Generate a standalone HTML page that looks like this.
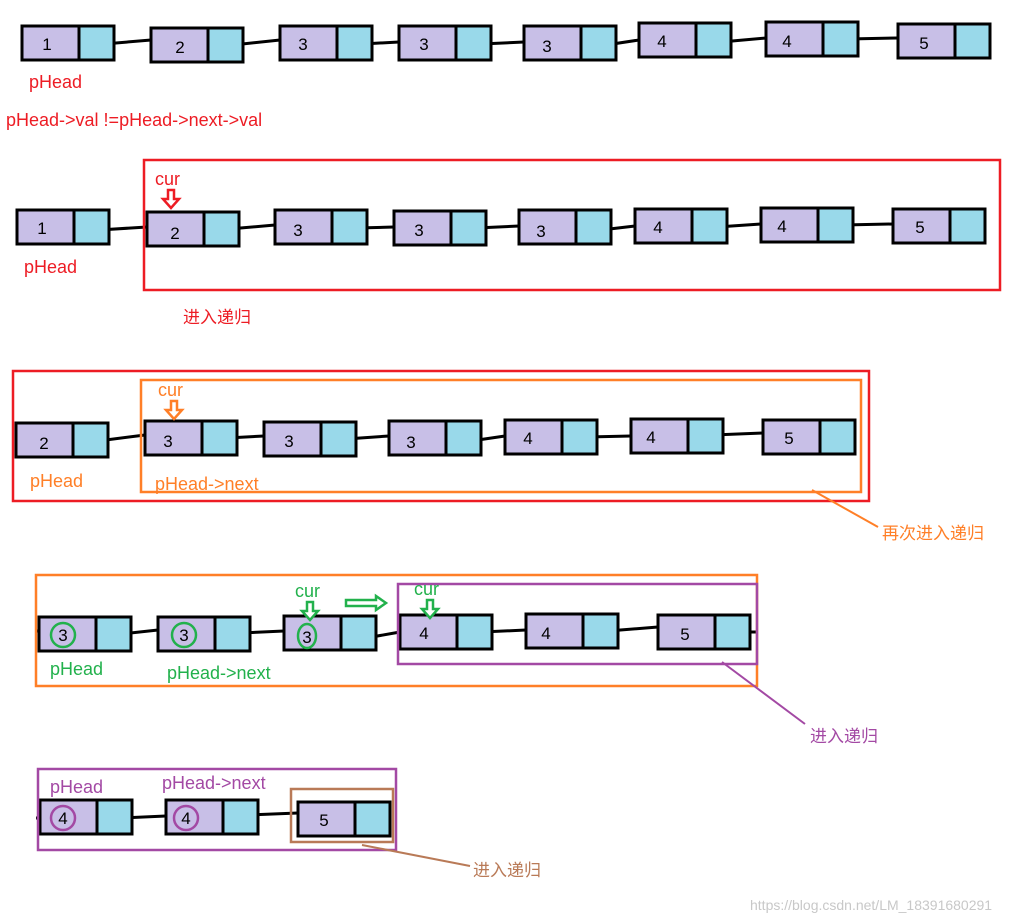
<!DOCTYPE html>
<html><head><meta charset="utf-8"><style>
html,body{margin:0;padding:0;background:#fff;}
svg{display:block;font-family:"Liberation Sans","Noto Sans CJK SC",sans-serif;}
</style></head><body>
<svg width="1033" height="923" viewBox="0 0 1033 923" xmlns="http://www.w3.org/2000/svg">
<defs>
<g id="n">
<rect x="0" y="0" width="57" height="34" fill="#c8bfe7"/>
<rect x="57" y="0" width="35" height="34" fill="#99d9ea"/>
<rect x="0" y="0" width="92" height="34" fill="none" stroke="#000" stroke-width="3"/>
<line x1="57" y1="0" x2="57" y2="34" stroke="#000" stroke-width="3"/>
</g>
<path id="ar" d="M-3,0 h6 v9 h5 l-8,9 l-8,-9 h5 z" stroke-width="2.5" fill="#fff"/>
</defs>
<g stroke="#000" stroke-width="3" fill="none">
<!-- row1 links -->
<path d="M104,44 L151,40 M233,45 L280,40 M362,44 L399,42 M481,44 L524,42 M606,45 L639,40 M721,42 L766,38 M848,39 L898,38"/>
<!-- row2 -->
<path d="M99,230 L147,227 M229,229 L275,225 M357,228 L394,227 M476,228 L519,226 M601,230 L635,226 M717,227 L761,224 M843,225 L893,224"/>
<!-- row3 -->
<path d="M40,423 L16,423 M98,441 L145,435 M227,438 L264,436 M346,439 L389,436 M471,441 L505,436 M587,437 L631,436 M713,435 L763,433"/>
<!-- row4 -->
<path d="M36,631 L39,631 M121,634 L158,630 M240,633 L284,631 M366,638 L400,632 M482,632 L526,630 M608,631 L658,627 M740,632 L757,632"/>
<!-- row5 -->
<path d="M36,818 L40,818 M122,818 L166,816 M248,815 L298,813"/>
</g>
<!-- row1 nodes -->
<use href="#n" x="22" y="26"/><use href="#n" x="151" y="28"/><use href="#n" x="280" y="26"/><use href="#n" x="399" y="26"/><use href="#n" x="524" y="26"/><use href="#n" x="639" y="23"/><use href="#n" x="766" y="22"/><use href="#n" x="898" y="24"/>
<!-- row2 -->
<use href="#n" x="17" y="210"/><use href="#n" x="147" y="212"/><use href="#n" x="275" y="210"/><use href="#n" x="394" y="211"/><use href="#n" x="519" y="210"/><use href="#n" x="635" y="209"/><use href="#n" x="761" y="208"/><use href="#n" x="893" y="209"/>
<!-- row3 -->
<use href="#n" x="16" y="423"/><use href="#n" x="145" y="421"/><use href="#n" x="264" y="422"/><use href="#n" x="389" y="421"/><use href="#n" x="505" y="420"/><use href="#n" x="631" y="419"/><use href="#n" x="763" y="420"/>
<!-- row4 -->
<use href="#n" x="39" y="617"/><use href="#n" x="158" y="617"/><use href="#n" x="284" y="616"/><use href="#n" x="400" y="615"/><use href="#n" x="526" y="614"/><use href="#n" x="658" y="615"/>
<!-- row5 -->
<use href="#n" x="40" y="800"/><use href="#n" x="166" y="800"/><use href="#n" x="298" y="802"/>

<g font-size="17" fill="#000" text-anchor="middle">
<text x="47" y="50">1</text><text x="180" y="53">2</text><text x="303" y="50">3</text><text x="424" y="50">3</text><text x="547" y="52">3</text><text x="662" y="47">4</text><text x="787" y="47">4</text><text x="924" y="49">5</text>
<text x="42" y="234">1</text><text x="175" y="239">2</text><text x="298" y="236">3</text><text x="419" y="236">3</text><text x="541" y="237">3</text><text x="658" y="233">4</text><text x="782" y="232">4</text><text x="920" y="233">5</text>
<text x="44" y="449">2</text><text x="168" y="447">3</text><text x="289" y="447">3</text><text x="411" y="448">3</text><text x="528" y="444">4</text><text x="651" y="443">4</text><text x="789" y="444">5</text>
<text x="63" y="641">3</text><text x="184" y="641">3</text><text x="307" y="643">3</text><text x="424" y="639">4</text><text x="546" y="639">4</text><text x="685" y="640">5</text>
<text x="63" y="824">4</text><text x="186" y="824">4</text><text x="324" y="826">5</text>
</g>
<!-- green circles -->
<g fill="none" stroke="#22b14c" stroke-width="2.5">
<circle cx="63" cy="635" r="12"/><circle cx="184" cy="635" r="12"/><ellipse cx="307" cy="636" rx="9" ry="12"/>
</g>
<g fill="none" stroke="#a349a4" stroke-width="2.5">
<circle cx="63" cy="818" r="12"/><circle cx="186" cy="818" r="12"/>
</g>
<!-- boxes -->
<rect x="144" y="160" width="856" height="130" fill="none" stroke="#ed1c24" stroke-width="2.5"/>
<rect x="13" y="371" width="856" height="130" fill="none" stroke="#ed1c24" stroke-width="2.5"/>
<rect x="141" y="380" width="720" height="112" fill="none" stroke="#ff7f27" stroke-width="2.5"/>
<rect x="36" y="575" width="721" height="111" fill="none" stroke="#ff7f27" stroke-width="2.5"/>
<rect x="398" y="584" width="359" height="80" fill="none" stroke="#a349a4" stroke-width="2.5"/>
<rect x="38" y="769" width="358" height="81" fill="none" stroke="#a349a4" stroke-width="2.5"/>
<rect x="291" y="789" width="102" height="53" fill="none" stroke="#b97a57" stroke-width="2.5"/>
<!-- leader lines -->
<line x1="812" y1="490" x2="878" y2="527" stroke="#ff7f27" stroke-width="2"/>
<line x1="722" y1="662" x2="805" y2="724" stroke="#a349a4" stroke-width="2"/>
<line x1="362" y1="845" x2="470" y2="866" stroke="#b97a57" stroke-width="2"/>
<!-- cur arrows -->
<use href="#ar" x="171" y="190" stroke="#ed1c24"/>
<use href="#ar" x="174" y="401" stroke="#ff7f27"/>
<use href="#ar" x="310" y="602" stroke="#22b14c"/>
<use href="#ar" x="430" y="600" stroke="#22b14c"/>
<path d="M346,600 h30 v-4 l10,7 l-10,7 v-4 h-30 z" fill="#fff" stroke="#22b14c" stroke-width="2.5"/>
<!-- labels -->
<g font-size="18">
<text x="29" y="88" fill="#ed1c24">pHead</text>
<text x="6" y="126" fill="#ed1c24">pHead-&gt;val !=pHead-&gt;next-&gt;val</text>
<text x="155" y="185" fill="#ed1c24">cur</text>
<text x="24" y="273" fill="#ed1c24">pHead</text>
<text x="183" y="323" fill="#ed1c24" font-size="17">进入递归</text>
<text x="158" y="396" fill="#ff7f27">cur</text>
<text x="30" y="487" fill="#ff7f27">pHead</text>
<text x="155" y="490" fill="#ff7f27">pHead-&gt;next</text>
<text x="882" y="539" fill="#ff7f27" font-size="17">再次进入递归</text>
<text x="295" y="597" fill="#22b14c">cur</text>
<text x="414" y="595" fill="#22b14c">cur</text>
<text x="50" y="675" fill="#22b14c">pHead</text>
<text x="167" y="679" fill="#22b14c">pHead-&gt;next</text>
<text x="810" y="742" fill="#a349a4" font-size="17">进入递归</text>
<text x="50" y="793" fill="#a349a4">pHead</text>
<text x="162" y="789" fill="#a349a4">pHead-&gt;next</text>
<text x="473" y="876" fill="#b97a57" font-size="17">进入递归</text>
</g>
<text x="750" y="910" font-size="14" fill="#c8c8c8">https://blog.csdn.net/LM_18391680291</text>
</svg>
</body></html>
